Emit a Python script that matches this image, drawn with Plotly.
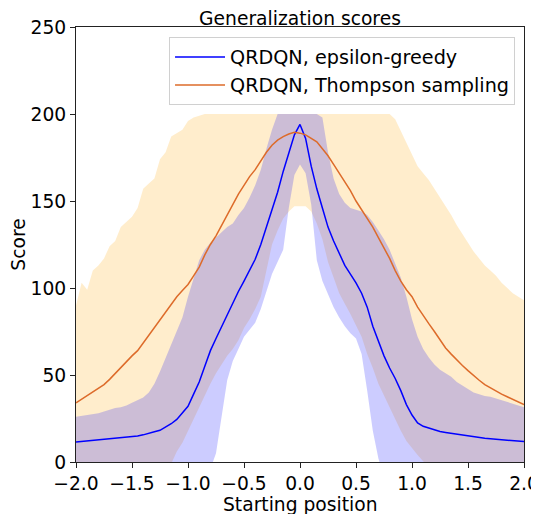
import numpy as np
import plotly.graph_objects as go

# Starting positions (sampling grid, step 0.05)
positions = np.round(np.linspace(-2.0, 2.0, 81), 2).tolist()

# QRDQN, epsilon-greedy: mean score and band (upper / lower)
eps_mean = [
    11.5, 11.8, 12.0, 12.3, 12.6, 12.9, 13.2, 13.4, 13.7, 14.0,
    14.4, 15.0, 15.6, 16.3, 17.4, 18.2, 20.0, 22.0, 24.5, 28.0,
    32.0, 39.0, 46.0, 55.0, 64.0, 71.0, 78.0, 85.0, 92.0, 98.0,
    104.0, 110.0, 116.5, 125.0, 135.0, 145.0, 155.0, 167.0, 177.0, 188.0,
    194.0, 186.0, 170.0, 157.0, 146.0, 135.0, 127.0, 120.0, 113.0, 108.0,
    103.0, 97.0, 89.0, 78.0, 69.0, 61.0, 54.0, 48.0, 41.0, 33.0,
    27.0, 22.5, 20.5, 19.5, 18.5, 17.5, 17.0, 16.5, 16.0, 15.3,
    14.8, 14.3, 14.0, 13.6, 13.3, 13.0, 12.7, 12.4, 12.2, 12.0,
    11.8,
]
eps_upper = [
    26, 26.5, 27, 27.5, 28, 29, 30, 31, 31.5, 32.5,
    34, 35.5, 37, 40, 45, 52, 60, 68, 75, 83,
    95, 105, 116, 122, 126, 129, 132, 135, 137, 142,
    146, 152, 159, 168, 180, 191, 200, 200, 200, 200,
    200, 200, 200, 200, 198, 178, 163, 154, 149, 146,
    145, 144, 142, 138, 133, 128, 122, 114, 106, 95,
    82, 72, 65, 60, 56, 53, 51, 49, 46, 44,
    42, 40, 39, 38, 37.5, 36.5, 35.5, 34.5, 33.5, 32.5,
    31.5,
]
eps_lower = [
    -3, -3, -3, -3, -3, -3, -4, -4, -4, -5,
    -5, -5, -6, -7, -10, -15, -20, -24, -26, -27,
    -31, -27, -24, -12, -4, 5, 27, 47, 58, 65,
    72, 76, 80, 88, 98, 108, 115, 122, 146, 165,
    171, 166, 148, 116, 104, 96, 89, 83, 78, 74,
    71, 62, 41, 18, 2, -8, -16, -20, -22, -33,
    -28, -27, -24, -21, -19, -18, -17, -16, -14, -13,
    -12, -11, -11, -11, -11, -10, -10, -10, -9, -8,
    -8,
]

# QRDQN, Thompson sampling: mean score and band (upper / lower)
ts_mean = [
    34, 36, 38, 40, 42, 44.5, 47.5, 51, 54.5, 57.5,
    61, 64, 68.5, 73, 77.5, 82, 86.5, 91, 95, 98.5,
    102, 107, 112, 119, 125, 130, 136, 142, 148, 154,
    159, 164, 168, 173, 178, 182, 185, 187, 188.5, 189.5,
    189, 188, 186, 184, 180, 176, 171, 166, 161, 156,
    150, 145, 140, 135, 129, 123, 117, 110, 104, 99,
    95, 89, 84, 79.5, 75, 70, 65.5, 62, 58.5, 55.5,
    52.5, 49.5, 47, 44.5, 42.5, 40.5, 39, 37.5, 36, 34.5,
    33,
]
ts_upper = [
    90, 103, 99, 110, 113, 117, 124, 127, 135, 138,
    141, 146, 157, 160, 163, 174, 178, 187, 189, 191,
    196, 198, 199, 200, 200, 200, 200, 200, 200, 200,
    200, 200, 200, 200, 200, 200, 200, 200, 200, 200,
    200, 200, 200, 200, 200, 200, 200, 200, 200, 200,
    200, 200, 200, 200, 200, 200, 200, 197, 190, 184,
    177, 170, 166, 162, 157, 152, 147, 142, 136, 131,
    126, 121, 117, 113, 110, 107, 103, 100, 97, 95,
    93,
]
ts_lower = [
    -22, -30, -23, -30, -29, -28, -29, -25, -26, -23,
    -19, -18, -20, -14, -8, -10, -5, -1, 6, 11,
    17, 24, 31, 38, 45, 51, 56, 61, 65, 70,
    77, 82, 88, 95, 110, 125, 133, 140, 144, 147,
    147, 147, 144, 137, 128, 115, 106, 97, 91, 85,
    79, 72, 62, 54, 45, 38, 31, 25, 18, 12,
    8, 4, 0.5, -3, -7, -12, -16, -18, -19, -20,
    -21, -22, -23, -24, -25, -26, -25, -25, -25, -26,
    -27,
]

series_names = ["QRDQN, epsilon-greedy", "QRDQN, Thompson sampling"]
FONT = "DejaVu Sans, Verdana, sans-serif"
FS = 18.7

# The page body has an 8 px margin, so the figure is sized to fit the window.
W, H = 531, 506

fig = go.Figure()


def band(lower, upper, color):
    return go.Scatter(
        x=positions + positions[::-1],
        y=list(upper) + list(lower)[::-1],
        fill="toself",
        fillcolor=color,
        line=dict(width=0, color="rgba(0,0,0,0)"),
        mode="lines",
        hoverinfo="skip",
        showlegend=False,
    )


fig.add_trace(band(ts_lower, ts_upper, "rgba(255,165,0,0.2)"))
fig.add_trace(band(eps_lower, eps_upper, "rgba(0,0,255,0.2)"))

fig.add_trace(go.Scatter(x=positions, y=eps_mean, mode="lines",
                         line=dict(color="#0000ff", width=1.5),
                         name=series_names[0]))
fig.add_trace(go.Scatter(x=positions, y=ts_mean, mode="lines",
                         line=dict(color="#dd6b2a", width=1.5),
                         name=series_names[1]))

axis_common = dict(
    showgrid=False, zeroline=False, automargin=False,
    showline=True, linecolor="#222222", linewidth=1, mirror=True,
    ticks="outside", ticklen=5, tickwidth=1, tickcolor="#222222",
    tickfont=dict(family=FONT, size=FS, color="black"),
)

fig.update_xaxes(range=[-2, 2], tick0=-2, dtick=0.5, tickformat=".1f",
                 **axis_common)
fig.update_yaxes(range=[0, 250], tick0=0, dtick=50,
                 title=dict(text="Score", standoff=6,
                            font=dict(family=FONT, size=FS, color="black")),
                 **axis_common)

fig.update_layout(
    width=W, height=H,
    margin=dict(l=68, r=15, t=19, b=52),
    plot_bgcolor="white", paper_bgcolor="white",
    font=dict(family=FONT, size=FS, color="black"),
    title=dict(text="Generalization scores", x=0.5, xref="paper",
               xanchor="center", y=1 - 4 / H, yanchor="top",
               pad=dict(t=0, b=0),
               font=dict(family=FONT, size=FS, color="black")),
    legend=dict(x=0.98, y=0.977, xanchor="right", yanchor="top",
                bgcolor="rgba(255,255,255,0.8)", bordercolor="#d0d0d0",
                borderwidth=1, itemwidth=50,
                font=dict(family=FONT, size=19.2, color="black"),
                tracegroupgap=0),
    annotations=[dict(text="Starting position", xref="paper", yref="paper",
                      x=0.5, y=-0.097, xanchor="center", yanchor="middle",
                      showarrow=False,
                      font=dict(family=FONT, size=FS, color="black"))],
)

fig.write_html("out.html")
